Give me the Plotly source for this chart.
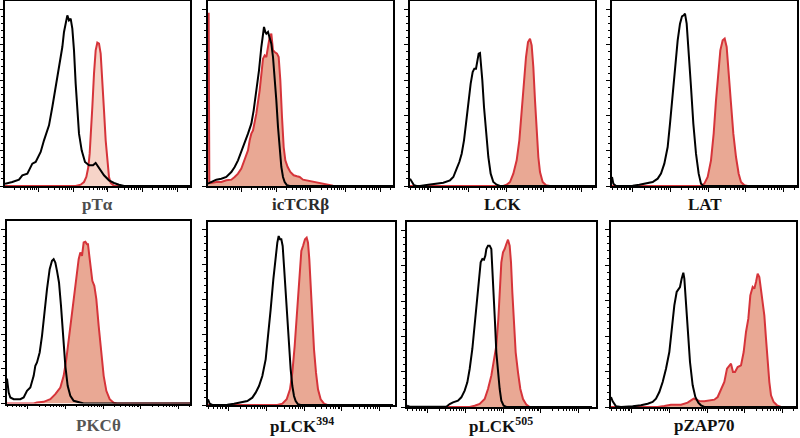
import numpy as np
import plotly.graph_objects as go

# ---- data: x = fluorescence channel, y = event count (per panel) ----
labels = ["pTα", "icTCRβ", "LCK", "LAT", "PKCθ", "pLCK<sup>394</sup>", "pLCK<sup>505</sup>", "pZAP70"]

pta_black_x = [0,22,42,52,67,82,92,107,117,122,132,142,152,162,172,177,182,187,192,197,202,207,212,217,222,230,240,252,264,272,280,287,297,312,327,342,357,555]
pta_black_y = [7,12,19,32,37,67,72,102,137,152,182,237,297,352,417,462,492,512,497,502,472,407,307,227,157,107,72,62,62,69,57,45,32,17,9,4,0,0]
pta_red_x = [0,212,227,237,244,250,254,258,262,267,272,277,282,287,292,297,302,307,312,317,327,340,555]
pta_red_y = [0,0,4,12,27,57,97,157,237,337,407,430,427,397,327,227,137,67,27,9,1,0,0]

ictcrb_black_x = [0,10,25,40,55,70,80,90,100,110,120,130,137,145,153,160,165,168,172,175,180,185,190,195,200,205,210,215,220,225,230,237,245,555]
ictcrb_black_y = [7,12,19,22,27,42,57,77,102,127,157,187,227,287,347,417,462,477,462,457,462,447,427,387,327,257,177,107,57,27,12,2,0,0]
ictcrb_red_x = [0,2,4,10,25,40,55,70,80,90,100,110,120,125,130,135,145,155,160,165,170,175,180,185,190,195,200,207,212,217,222,227,232,239,247,257,267,275,285,295,305,320,335,355,375,395,555]
ictcrb_red_y = [517,517,12,9,12,12,17,19,27,37,52,77,107,137,157,167,217,287,337,382,392,387,417,447,457,407,402,397,387,317,207,117,77,57,42,32,29,27,19,17,14,12,9,4,1,0,0]

lck_black_x = [0,5,12,20,30,55,80,100,120,130,140,148,155,162,168,175,182,188,193,198,202,206,210,213,217,222,228,235,242,250,260,270,555]
lck_black_y = [22,12,2,0,0,4,7,10,17,27,52,72,97,137,187,257,307,342,352,352,372,397,399,372,317,237,157,87,37,12,4,0,0]
lck_red_x = [0,280,290,300,310,320,328,335,342,348,354,360,365,370,375,380,385,390,398,408,420,555]
lck_red_y = [0,0,4,12,37,77,137,227,307,387,432,442,422,357,257,157,87,42,12,2,0,0]

lat_black_x = [0,4,12,62,82,102,122,137,147,157,167,174,182,190,197,204,210,215,219,224,230,237,244,252,260,267,274,555]
lat_black_y = [27,7,0,1,4,7,12,22,37,67,117,187,277,367,437,487,509,512,517,487,407,297,187,97,37,7,0,0]
lat_red_x = [0,267,277,287,297,305,312,319,325,332,338,344,350,357,364,372,380,387,397,407,555]
lat_red_y = [0,0,7,27,77,157,257,347,407,437,442,417,347,247,157,87,37,12,2,0,0]

pkct_black_x = [0,5,10,20,40,50,60,70,80,85,90,98,105,112,120,128,135,140,145,150,156,162,168,175,182,190,200,215,230,555]
pkct_black_y = [75,33,18,13,13,18,38,48,83,113,123,153,203,273,343,403,428,433,423,398,363,293,203,113,53,23,8,3,0,0]
pkct_red_x = [0,80,90,110,130,145,160,170,178,185,192,200,208,215,220,225,230,235,240,243,247,252,256,262,268,275,282,290,298,308,320,330,555]
pkct_red_y = [0,0,3,5,13,28,48,83,133,193,253,323,383,433,453,443,483,485,478,478,443,403,368,353,313,233,153,83,38,13,2,0,0]

plck394_black_x = [0,5,13,58,78,98,118,133,143,153,163,173,181,188,196,203,208,212,216,220,224,228,233,238,243,248,253,258,263,270,278,555]
plck394_black_y = [17,4,0,1,4,7,12,22,37,57,87,137,207,287,377,447,487,507,497,497,477,417,337,257,177,107,57,27,12,2,0,0]
plck394_red_x = [0,208,223,236,246,253,260,266,271,275,280,285,291,296,300,304,308,313,318,324,330,338,348,358,555]
plck394_red_y = [0,0,4,17,47,97,177,257,337,407,462,477,497,502,487,437,357,257,167,97,47,17,4,0,0]

plck505_black_x = [0,8,118,128,138,153,163,173,181,188,196,203,210,216,221,226,231,235,238,243,248,253,256,260,264,268,273,278,283,290,298,555]
plck505_black_y = [4,1,1,9,14,19,29,49,74,114,174,244,324,384,434,444,442,454,474,484,484,474,424,334,254,164,104,54,19,4,0,0]
plck505_red_x = [0,188,203,218,233,243,253,261,268,274,278,283,288,293,298,303,308,312,316,321,326,333,340,348,358,368,555]
plck505_red_y = [0,0,4,9,24,54,94,144,184,264,344,434,464,474,489,502,484,434,344,244,164,104,54,24,7,0,0]

pzap70_black_x = [0,5,15,30,65,90,110,125,135,145,155,165,175,182,190,197,202,207,212,217,220,225,230,237,245,253,262,270,280,555]
pzap70_black_y = [30,17,2,0,2,5,10,15,25,45,75,115,165,235,305,345,355,360,385,403,385,315,225,135,65,30,13,5,0,0]
pzap70_red_x = [0,140,160,180,210,230,240,248,255,265,280,295,310,320,330,340,348,355,360,366,372,380,390,398,405,412,418,425,430,435,440,445,450,455,460,465,470,475,480,488,498,510,555]
pzap70_red_y = [0,0,3,7,7,13,20,25,22,18,17,20,22,30,50,75,115,125,130,105,105,120,125,165,225,265,335,360,355,375,400,390,355,325,275,205,135,75,35,15,5,0,0]

series = [
    (pta_black_x, pta_black_y, pta_red_x, pta_red_y),
    (ictcrb_black_x, ictcrb_black_y, ictcrb_red_x, ictcrb_red_y),
    (lck_black_x, lck_black_y, lck_red_x, lck_red_y),
    (lat_black_x, lat_black_y, lat_red_x, lat_red_y),
    (pkct_black_x, pkct_black_y, pkct_red_x, pkct_red_y),
    (plck394_black_x, plck394_black_y, plck394_red_x, plck394_red_y),
    (plck505_black_x, plck505_black_y, plck505_red_x, plck505_red_y),
    (pzap70_black_x, pzap70_black_y, pzap70_red_x, pzap70_red_y),
]
# count of the top (100 %) y tick per panel
ytop = [529, 529, 529, 529, 521, 527, 529, 532]

# ---- layout / style ----
W, H = 800, 438
geom = [  # left, right, top, bottom (px)
    (5, 190, 1, 186), (208, 393, 1, 186), (410, 595, 1, 186), (612, 797, 1, 186),
    (7, 190, 221, 403.5), (208, 395, 221.5, 405), (407, 596, 222, 407), (611, 796, 222, 407),
]
xmajor = [(100, 104), (100, 104), (62, 113), (62, 113), (62, 113), (62, 113), (62, 113), (62, 113)]
label_colors = ["#4d4d4d", "#2b2b2b", "#111111", "#111111", "#555555", "#111111", "#111111", "#111111"]
fill_colors = ["rgba(246,212,200,1)"] + ["rgba(233,168,148,1)"] * 7
red_line = "rgb(214,52,58)"
label_y_px = [205, 205, 205, 205, 425, 425, 425, 425]

fig = go.Figure()
annotations = []
for i, ((bx, by, rx, ry), (l, r, t, b)) in enumerate(zip(series, geom)):
    n = i + 1
    xa = "x" if n == 1 else f"x{n}"
    ya = "y" if n == 1 else f"y{n}"
    fig.add_trace(go.Scatter(x=rx, y=ry, mode="lines", fill="tozeroy",
                             fillcolor=fill_colors[i], line=dict(color=red_line, width=2),
                             xaxis=xa, yaxis=ya, showlegend=False, hoverinfo="skip"))
    fig.add_trace(go.Scatter(x=bx, y=by, mode="lines",
                             line=dict(color="black", width=2),
                             xaxis=xa, yaxis=ya, showlegend=False, hoverinfo="skip"))
    xr = 3 * (r - l)
    yr = 3 * (b - t)
    first, dec = xmajor[i]
    majors = [first + k * dec for k in range(-1, 6) if 0 <= first + k * dec <= xr]
    minors = []
    for k in range(-1, 6):
        base = first + k * dec
        for m in range(2, 10):
            v = base + np.log10(m) * dec
            if 0 < v < xr:
                minors.append(float(v))
    ymaj = list(np.linspace(0, ytop[i], 6))
    ymin = list(np.linspace(0, ytop[i], 26))
    axis_common = dict(showgrid=False, zeroline=False, showline=True, mirror=True,
                       linecolor="black", linewidth=1.5, showticklabels=False,
                       ticks="outside", tickcolor="black")
    xkey = "xaxis" if n == 1 else f"xaxis{n}"
    ykey = "yaxis" if n == 1 else f"yaxis{n}"
    fig.update_layout({
        xkey: dict(domain=[l / W, r / W], range=[0, xr], anchor=ya,
                   tickmode="array", tickvals=majors, ticklen=4, tickwidth=1.2,
                   minor=dict(tickmode="array", tickvals=minors, ticks="outside",
                              ticklen=2, tickwidth=1, tickcolor="black"),
                   **axis_common),
        ykey: dict(domain=[1 - b / H, 1 - t / H], range=[0, yr], anchor=xa,
                   tickmode="array", tickvals=ymaj, ticklen=4, tickwidth=1.2,
                   minor=dict(tickmode="array", tickvals=ymin, ticks="outside",
                              ticklen=2, tickwidth=1, tickcolor="black"),
                   **axis_common),
    })
    annotations.append(dict(text=f"<b>{labels[i]}</b>", xref="paper", yref="paper",
                            x=(l + r) / 2 / W, y=1 - label_y_px[i] / H,
                            xanchor="center", yanchor="middle", showarrow=False,
                            font=dict(family="Liberation Serif", size=17, color=label_colors[i])))

fig.update_layout(width=W, height=H, margin=dict(l=0, r=0, t=0, b=0),
                  paper_bgcolor="white", plot_bgcolor="white",
                  annotations=annotations, showlegend=False)
fig.write_html("out.html", config={"displayModeBar": False},
               post_script="document.body.style.margin='0';document.body.style.overflow='hidden';")
